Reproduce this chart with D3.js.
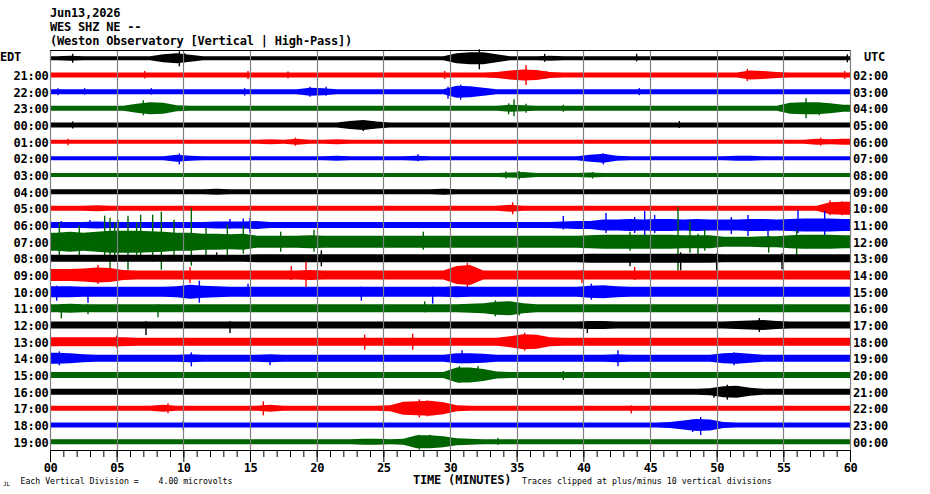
<!DOCTYPE html>
<html>
<head>
<meta charset="utf-8">
<script src="https://cdn.jsdelivr.net/npm/d3@7"></script>
<style>
  body { margin: 0; background: #fff; }
  svg text { font-family: "DejaVu Sans Mono", monospace; }
</style>
</head>
<body>
<div id="chart"></div>
<script>
// station / header text
const headerLines = ["Jun13,2026", "WES SHZ NE --", "(Weston Observatory [Vertical | High-Pass])"]

// one row per hour, left = local time, right = UTC
const edtLabels = ["EDT", "21:00", "22:00", "23:00", "00:00", "01:00", "02:00", "03:00", "04:00",
  "05:00", "06:00", "07:00", "08:00", "09:00", "10:00", "11:00", "12:00", "13:00", "14:00",
  "15:00", "16:00", "17:00", "18:00", "19:00"]
const utcLabels = ["UTC", "02:00", "03:00", "04:00", "05:00", "06:00", "07:00", "08:00", "09:00",
  "10:00", "11:00", "12:00", "13:00", "14:00", "15:00", "16:00", "17:00", "18:00", "19:00",
  "20:00", "21:00", "22:00", "23:00", "00:00"]

const majorTickLabels = ["00", "05", "10", "15", "20", "25", "30", "35", "40", "45", "50", "55", "60"]
const minuteTicks = [0, 1, 2, 3, 4, 5, 6, 7, 8, 9, 10, 11, 12, 13, 14, 15, 16, 17, 18, 19, 20,
  21, 22, 23, 24, 25, 26, 27, 28, 29, 30, 31, 32, 33, 34, 35, 36, 37, 38, 39, 40, 41, 42, 43,
  44, 45, 46, 47, 48, 49, 50, 51, 52, 53, 54, 55, 56, 57, 58, 59, 60]

const traceColors = ["#000000", "#ff0000", "#0000ff", "#006400"]

// trace envelope, one char per minute (base 36), amplitude counts
const envelopes = [
  "45444 4448a 74444 44444 44444 44444 acc84 44544 44444 44444 44444 44444",
  "55555 55555 55555 55555 55555 55555 55569 ba655 55555 55555 55986 55555",
  "55555 55555 55555 55558 75555 55555 cb855 55555 55555 55555 55555 55555",
  "55555 59cb6 55555 55555 55555 55555 55557 65555 55555 55555 55555 bcca7",
  "55555 55555 55555 55555 558a7 55555 55555 55555 55555 55555 55555 55555",
  "44444 44444 44444 45464 45444 44444 44444 44444 44444 44444 44444 44656",
  "44444 44447 54444 44444 45444 44544 44444 44444 79544 44444 45544 44444",
  "44444 44444 44444 44444 44444 44444 44445 64444 54444 44444 44444 44444",
  "55555 55555 55655 55555 55555 55556 55555 55555 55555 55555 55555 55555",
  "55565 55555 55555 55555 55555 55555 55557 55555 55555 55555 55555 555cd",
  "66676 66666 66777 86666 66666 66666 66666 66678 8bbcb ccbcb bbccb cdddc",
  "ikikm mmlki iggfg ccccd ccccc ccccc ccccc ccccc deeee eeddd aaabb deeed",
  "77777 77777 77777 88888 88888 88888 88888 88888 99999 99999 88888 88888",
  "ccdfe a9999 99999 9999a 99999 99999 ik999 99999 99999 99999 99999 99999",
  "bbaaa aaaab ecbaa aaaaa aaaaa aaaaa baaaa aaaaa cdbaa aaaaa aaaaa aaaaa",
  "89888 88888 88888 88888 88888 88888 89ade a8888 88888 88888 88888 88888",
  "77777 77777 77777 77777 77777 77777 77777 77777 88777 77777 789a8 77777",
  "99999 98888 88888 88888 88888 88888 8888b fe988 88888 88888 88888 88888",
  "ba877 77777 87777 78777 77777 77777 aa977 77777 77877 77777 ab977 77777",
  "66666 66666 66666 66666 66666 66666 ffc76 66666 66666 66666 66666 66666",
  "66666 66666 66666 66666 66666 66666 66666 66666 66666 66667 bc866 66666",
  "55555 55575 55555 57555 55555 6defc 65555 55555 55555 55555 55555 55555",
  "55555 55555 55555 55555 55555 55555 55555 55555 55555 569cb 65555 55555",
  "55555 55555 55555 55555 55566 56ddb 76555 55555 55555 55555 55555 55555"
]

// single swings: [row, minute, up, down] in counts
const spikes = [
  [0, 1.7, 9, 9], [0, 9.7, 14, 16], [0, 10.1, 10, 8], [0, 32.2, 18, 22], [0, 37.1, 9, 7],
  [0, 44, 9, 6], [0, 59.8, 8, 8],
  [1, 7.1, 8, 7], [1, 14.85, 8, 8], [1, 17.85, 7, 7], [1, 29.6, 8, 8], [1, 35.7, 20, 20],
  [1, 37.2, 8, 7], [1, 52.3, 12, 12], [1, 59.6, 8, 8],
  [2, 0.6, 7, 7], [2, 2.6, 7, 6], [2, 7.6, 7, 6], [2, 14.6, 7, 8], [2, 19.5, 10, 10],
  [2, 20.7, 10, 8], [2, 29.85, 10, 14], [2, 30.8, 14, 16], [2, 44.2, 7, 7],
  [3, 7.0, 16, 14], [3, 34.4, 10, 12], [3, 34.8, 18, 16], [3, 35.7, 9, 9], [3, 38.5, 7, 7],
  [3, 56.7, 20, 20], [3, 57.7, 12, 14],
  [4, 1.7, 7, 7], [4, 23.5, 10, 12], [4, 47.2, 8, 6],
  [5, 1.35, 6, 7], [5, 18.4, 8, 8], [5, 57.8, 8, 8],
  [6, 9.7, 10, 12], [6, 27.6, 8, 6], [6, 41.5, 10, 12],
  [7, 34.2, 7, 7], [7, 35.2, 8, 9], [7, 40.7, 6, 7],
  [9, 34.7, 12, 12], [9, 58.5, 16, 14], [9, 59.4, 14, 14],
  [10, 0.85, 8, 6], [10, 3.0, 10, 6], [10, 13.5, 12, 7], [10, 14.5, 13, 8], [10, 15, 14, 16],
  [10, 38.5, 18, 9], [10, 41.7, 24, 16], [10, 43.85, 16, 16], [10, 44.6, 28, 26],
  [10, 45.35, 20, 16], [10, 51.1, 16, 18], [10, 52.35, 20, 22], [10, 53.85, 12, 26],
  [10, 56.1, 30, 16], [10, 58.1, 28, 28],
  [11, 0.7, 38, 30], [11, 2.2, 32, 36], [11, 4.1, 52, 28], [11, 4.5, 48, 56], [11, 4.85, 38, 40],
  [11, 5.1, 44, 36], [11, 5.85, 52, 56], [11, 6.5, 38, 32], [11, 6.8, 54, 36], [11, 7.7, 54, 40],
  [11, 8.35, 60, 56], [11, 9.3, 44, 28], [11, 10.6, 68, 48], [11, 11.7, 28, 28], [11, 13.3, 34, 32],
  [11, 14.5, 32, 24], [11, 17.3, 20, 20], [11, 19.8, 24, 20], [11, 28, 20, 16], [11, 43.5, 20, 18],
  [11, 47.1, 70, 58], [11, 48.0, 40, 22], [11, 48.6, 16, 26], [11, 49.1, 24, 18], [11, 53.9, 12, 22],
  [11, 56, 24, 26],
  [12, 12.5, 12, 6], [12, 20.35, 16, 16], [12, 43.5, 8, 16], [12, 47.3, 12, 24], [12, 50, 10, 24],
  [12, 54.9, 10, 22],
  [13, 3.6, 20, 18], [13, 10.5, 16, 16], [13, 18.1, 18, 10], [13, 19.2, 26, 26], [13, 31.3, 24, 26],
  [13, 39.9, 10, 16], [13, 43.85, 16, 10],
  [14, 0.5, 12, 18], [14, 2.85, 10, 22], [14, 11.2, 22, 22], [14, 14.85, 16, 10],
  [14, 23.35, 10, 18], [14, 28.7, 10, 24], [14, 40.6, 16, 16],
  [15, 0.85, 8, 20], [15, 2.85, 8, 12], [15, 8.1, 8, 18], [15, 28.1, 14, 8], [15, 33.4, 16, 16],
  [15, 35.2, 10, 14],
  [16, 7.2, 8, 20], [16, 13.5, 8, 16], [16, 40.3, 8, 16], [16, 53.2, 14, 14],
  [17, 5, 12, 12], [17, 23.6, 14, 16], [17, 27.2, 16, 16], [17, 35.6, 18, 18],
  [18, 0.7, 14, 14], [18, 10.6, 12, 16], [18, 16.5, 6, 14], [18, 30.9, 16, 10], [18, 42.6, 16, 16],
  [18, 51.3, 12, 14],
  [19, 30.7, 18, 16], [19, 32.1, 18, 12], [19, 38.5, 8, 10],
  [20, 49.8, 8, 12], [20, 50.8, 14, 16],
  [21, 8.85, 10, 10], [21, 16, 14, 14], [21, 27.7, 18, 18], [21, 28.3, 16, 16], [21, 43.6, 6, 10],
  [22, 10, 8, 10], [22, 48.2, 12, 14], [22, 48.8, 16, 20],
  [23, 27.7, 14, 16], [23, 28.5, 14, 12], [23, 33.6, 8, 6]
]

const width = 930
const height = 494
const clipCounts = 72   // plus/minus 10 divisions

const svg = d3.select('#chart')
  .append('svg')
  .attr('width', width)
  .attr('height', height)
  .style('background', '#fff')

const x = d3.scaleLinear().domain([0, 60]).range([50, 850])
const rowY = d3.scaleLinear().domain([0, 23]).range([58.3, 441.7])
const amp = d3.scaleLinear().domain([0, 1]).range([0, 0.5])

// header
svg.selectAll('text.header')
  .data(headerLines)
  .enter()
  .append('text')
  .attr('class', 'header')
  .attr('x', 50)
  .attr('y', (d, i) => 16.5 + i * 14.2)
  .attr('font-size', 12)
  .attr('font-weight', 'bold')
  .attr('letter-spacing', -0.2)
  .text(d => d)

// traces
const traces = svg.append('g')
envelopes.forEach((s, r) => {
  const vals = s.replace(/ /g, '').split('').map(c => parseInt(c, 36))
  const pts = vals.map((a, i) => ({ m: i + 0.5, a: a }))
  pts.unshift({ m: 0, a: vals[0] })
  pts.push({ m: 60, a: vals[vals.length - 1] })
  const base = rowY(r)
  const color = traceColors[r % 4]
  const area = d3.area()
    .x(d => x(d.m))
    .y0(d => base + amp(d.a))
    .y1(d => base - amp(d.a))
  traces.append('path')
    .datum(pts)
    .attr('d', area)
    .attr('fill', color)

  traces.selectAll(null)
    .data(spikes.filter(d => d[0] === r))
    .enter()
    .append('line')
    .attr('x1', d => x(d[1]))
    .attr('x2', d => x(d[1]))
    .attr('y1', d => base - amp(Math.min(d[2], clipCounts)))
    .attr('y2', d => base + amp(Math.min(d[3], clipCounts)))
    .attr('stroke', color)
    .attr('stroke-width', 1.4)
})

// 5 minute grid lines on top
svg.append('g')
  .selectAll('line')
  .data(majorTickLabels.map(Number))
  .enter()
  .append('line')
  .attr('x1', d => Math.round(x(d)) + 0.5)
  .attr('x2', d => Math.round(x(d)) + 0.5)
  .attr('y1', 50)
  .attr('y2', 450)
  .attr('stroke', '#808080')
  .attr('stroke-width', 1.2)

svg.append('line')
  .attr('x1', x(0)).attr('x2', x(60))
  .attr('y1', 50.5).attr('y2', 50.5)
  .attr('stroke', '#000')

// hour labels
svg.selectAll('text.edt')
  .data(edtLabels)
  .enter()
  .append('text')
  .attr('x', (d, i) => i === 0 ? 0 : 48.5)
  .attr('y', (d, i) => rowY(i) + (i === 0 ? -1 : 1))
  .attr('text-anchor', (d, i) => i === 0 ? 'start' : 'end')
  .attr('dominant-baseline', 'central')
  .attr('font-size', 12)
  .attr('font-weight', 'bold')
  .attr('letter-spacing', -0.2)
  .text(d => d)

svg.selectAll('text.utc')
  .data(utcLabels)
  .enter()
  .append('text')
  .attr('x', (d, i) => i === 0 ? 864 : 853)
  .attr('y', (d, i) => rowY(i) + (i === 0 ? -1 : 1))
  .attr('dominant-baseline', 'central')
  .attr('font-size', 12)
  .attr('font-weight', 'bold')
  .attr('letter-spacing', -0.2)
  .text(d => d)

// time axis
const minorAxis = d3.axisBottom(x)
  .tickValues(minuteTicks)
  .tickSize(7)
  .tickSizeOuter(0)
  .tickFormat('')
const majorAxis = d3.axisBottom(x)
  .tickValues(majorTickLabels.map(Number))
  .tickSize(12)
  .tickSizeOuter(0)
  .tickPadding(1)
  .tickFormat(d3.format('02d'))

const gMinor = svg.append('g').attr('transform', 'translate(0,450)').call(minorAxis)
const gMajor = svg.append('g').attr('transform', 'translate(0,450)').call(majorAxis)
gMinor.selectAll('line').attr('stroke', '#000')
gMajor.selectAll('line').attr('stroke', '#000')
gMajor.select('.domain').attr('stroke', '#000')
gMajor.selectAll('text')
  .attr('font-family', '"DejaVu Sans Mono", monospace')
  .attr('font-size', 12)
  .attr('font-weight', 'bold')
  .attr('letter-spacing', -0.4)
  .attr('fill', '#000')

svg.append('text')
  .attr('x', 413)
  .attr('y', 484)
  .attr('font-size', 12)
  .attr('font-weight', 'bold')
  .attr('letter-spacing', -0.2)
  .text('TIME (MINUTES)')

svg.append('text')
  .attr('x', 20.5)
  .attr('y', 483.5)
  .attr('font-size', 8.2)
  .style('white-space', 'pre')
  .text('Each Vertical Division =    4.00 microvolts')

svg.append('text')
  .attr('x', 522)
  .attr('y', 483.5)
  .attr('font-size', 8.3)
  .style('white-space', 'pre')
  .text('Traces clipped at plus/minus 10 vertical divisions')

svg.append('text')
  .attr('x', 3)
  .attr('y', 486)
  .attr('font-size', 6)
  .text('JL')
</script>
</body>
</html>
